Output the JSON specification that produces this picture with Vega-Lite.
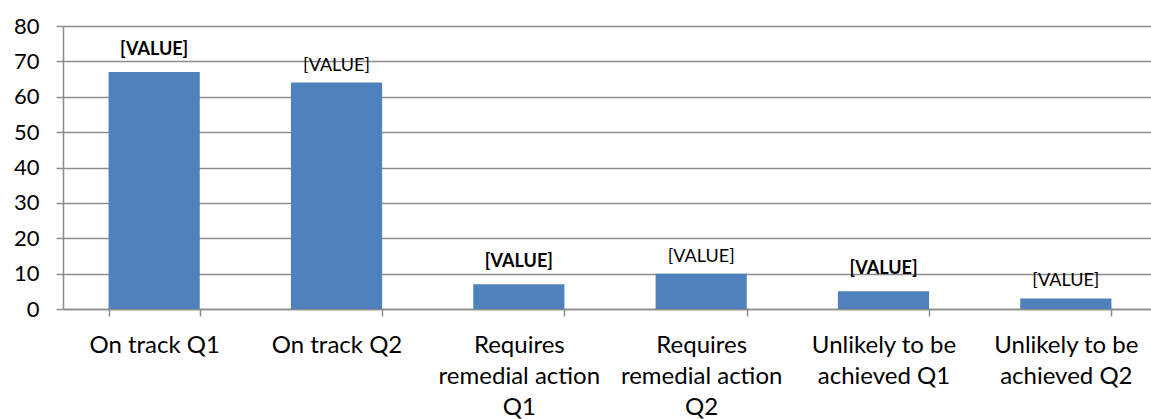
{
  "$schema": "https://vega.github.io/schema/vega-lite/v6.json",
  "autosize": "none",
  "width": 1087,
  "height": 283,
  "padding": {"left": 63, "top": 26, "right": 1, "bottom": 110},
  "background": "white",
  "config": {"view": {"stroke": null}, "font": "Lato"},
  "data": {
    "values": [
      {"category": "On track Q1", "value": 67, "q": "Q1"},
      {"category": "On track Q2", "value": 64, "q": "Q2"},
      {"category": "Requires|remedial action|Q1", "value": 7, "q": "Q1"},
      {"category": "Requires|remedial action|Q2", "value": 10, "q": "Q2"},
      {"category": "Unlikely to be|achieved Q1", "value": 5, "q": "Q1"},
      {"category": "Unlikely to be|achieved Q2", "value": 3, "q": "Q2"}
    ]
  },
  "encoding": {
    "x": {
      "field": "category",
      "type": "nominal",
      "sort": null,
      "scale": {"range": [0, 1094], "paddingInner": 0.5, "paddingOuter": 0.25},
      "axis": {
        "title": null,
        "labelAngle": 0,
        "tickBand": "extent",
        "tickSize": 7,
        "tickColor": "#8c8c8c",
        "tickWidth": 1.5,
        "domainColor": "#8c8c8c",
        "domainWidth": 1.5,
        "labelFont": "Lato",
        "labelFontSize": 24,
        "labelColor": "#000000",
        "labelPadding": 17,
        "labelLineHeight": 31,
        "labelBaseline": "top",
        "labelLimit": 0,
        "labelBound": false,
        "labelExpr": "split(datum.label, '|')",
        "grid": false
      }
    },
    "y": {
      "field": "value",
      "type": "quantitative",
      "scale": {"domain": [0, 80], "nice": false},
      "axis": {
        "title": null,
        "values": [0, 10, 20, 30, 40, 50, 60, 70, 80],
        "grid": true,
        "gridColor": "#8c8c8c",
        "gridWidth": 1.5,
        "domainColor": "#8c8c8c",
        "domainWidth": 1.5,
        "tickColor": "#8c8c8c",
        "tickWidth": 1.5,
        "tickSize": 7,
        "labelFont": "Lato",
        "labelFontSize": 22,
        "labelColor": "#000000",
        "labelPadding": 17
      }
    }
  },
  "layer": [
    {"mark": {"type": "bar", "color": "#4f81bd"}},
    {
      "transform": [{"filter": "datum.q == 'Q1'"}],
      "mark": {"type": "text", "font": "Lato", "fontSize": 18, "fontWeight": "bold", "baseline": "alphabetic", "dy": -17, "color": "#000000"},
      "encoding": {"text": {"value": "[VALUE]"}}
    },
    {
      "transform": [{"filter": "datum.q == 'Q2'"}],
      "mark": {"type": "text", "font": "Lato", "fontSize": 18, "fontWeight": "normal", "baseline": "alphabetic", "dy": -12, "color": "#000000"},
      "encoding": {"text": {"value": "[VALUE]"}}
    }
  ]
}
